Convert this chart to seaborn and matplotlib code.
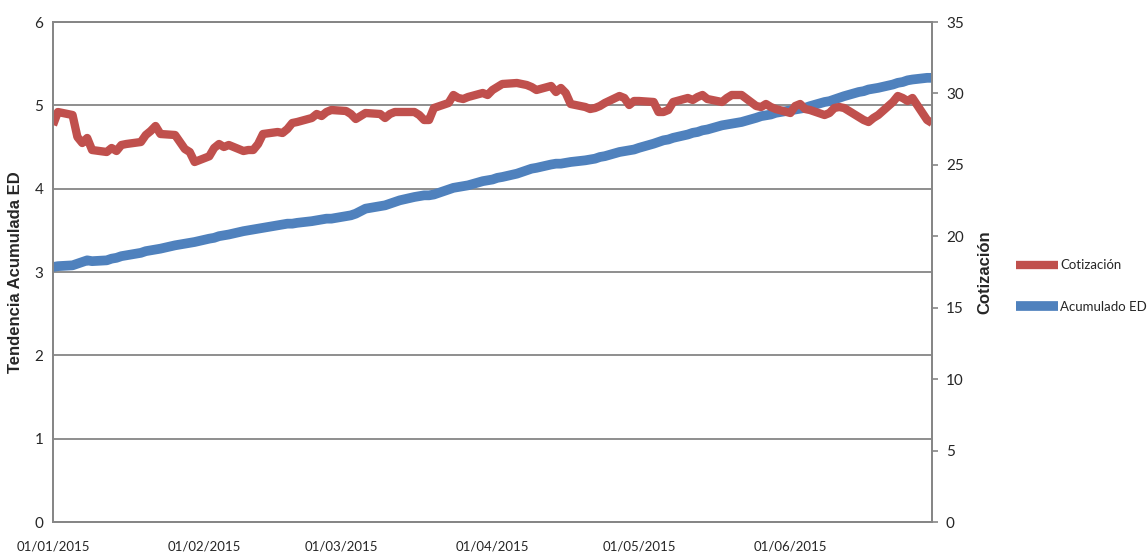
import pandas as pd
import matplotlib
matplotlib.use("Agg")
import matplotlib.pyplot as plt
import matplotlib.dates as mdates
import seaborn as sns

# Trading days, first half of 2015
fechas = pd.bdate_range("2015-01-01", "2015-06-30")

# Share price (right axis), one value per trading day, grouped by week
cotizacion = [
    27.79, 28.70,
    28.49, 26.95, 26.53, 26.88, 26.04,
    25.90, 26.18, 25.97, 26.39, 26.46,
    26.60, 27.09, 27.37, 27.72, 27.16,
    27.09, 26.60, 26.11, 25.90, 25.20,
    25.60, 26.18, 26.46, 26.25, 26.39,
    25.97, 26.04, 26.04, 26.46, 27.16,
    27.30, 27.23, 27.51, 27.93, 28.00,
    28.28, 28.56, 28.42, 28.70, 28.84,
    28.77, 28.56, 28.21, 28.42, 28.63,
    28.56, 28.28, 28.56, 28.70, 28.70,
    28.70, 28.49, 28.14, 28.14, 28.98,
    29.33, 29.89, 29.68, 29.61, 29.75,
    30.03, 29.89, 30.24, 30.45, 30.66,
    30.73, 30.66, 30.59, 30.45, 30.24,
    30.52, 30.10, 30.38, 30.03, 29.26,
    29.05, 28.91, 28.98, 29.12, 29.33,
    29.82, 29.68, 29.19, 29.47, 29.47,
    29.40, 28.70, 28.70, 28.84, 29.40,
    29.68, 29.54, 29.75, 29.89, 29.61,
    29.40, 29.68, 29.89, 29.89, 29.89,
    29.12, 29.05, 29.26, 29.05, 28.91,
    28.63, 29.12, 29.26, 28.91, 28.84,
    28.49, 28.63, 28.98, 29.05, 28.98,
    28.35, 28.14, 28.00, 28.28, 28.49,
    29.40, 29.82, 29.68, 29.47, 29.68,
    28.14, 27.93,
]

# Accumulated ED trend (left axis)
acumulado_ed = [
    3.06, 3.07,
    3.08, 3.10, 3.12, 3.14, 3.13,
    3.14, 3.16, 3.17, 3.19, 3.20,
    3.23, 3.25, 3.26, 3.27, 3.28,
    3.32, 3.33, 3.34, 3.35, 3.36,
    3.40, 3.41, 3.43, 3.44, 3.45,
    3.49, 3.50, 3.51, 3.52, 3.53,
    3.56, 3.57, 3.58, 3.58, 3.59,
    3.61, 3.62, 3.63, 3.64, 3.64,
    3.67, 3.68, 3.70, 3.73, 3.76,
    3.79, 3.80, 3.82, 3.84, 3.86,
    3.90, 3.91, 3.92, 3.92, 3.93,
    3.99, 4.01, 4.02, 4.03, 4.04,
    4.09, 4.10, 4.11, 4.13, 4.14,
    4.18, 4.20, 4.22, 4.24, 4.25,
    4.29, 4.30, 4.30, 4.31, 4.32,
    4.34, 4.35, 4.36, 4.38, 4.39,
    4.44, 4.45, 4.46, 4.47, 4.49,
    4.54, 4.56, 4.58, 4.59, 4.61,
    4.65, 4.67, 4.68, 4.70, 4.71,
    4.76, 4.77, 4.78, 4.79, 4.80,
    4.85, 4.87, 4.88, 4.89, 4.91,
    4.94, 4.95, 4.96, 4.97, 4.99,
    5.04, 5.05, 5.07, 5.09, 5.11,
    5.16, 5.17, 5.19, 5.20, 5.21,
    5.25, 5.27, 5.28, 5.30, 5.31,
    5.33, 5.33,
]

nombres = ["Cotización", "Acumulado ED"]
ticks_izq = [0, 1, 2, 3, 4, 5, 6]
ticks_der = [0, 5, 10, 15, 20, 25, 30, 35]
titulo_izq = "Tendencia Acumulada ED"
titulo_der = "Cotización"

ROJO = "#C0504D"
AZUL = "#4F81BD"
GRIS = "#868686"
TEXTO = ["Lato", "DejaVu Sans"]
BOLD = ["Liberation Sans", "DejaVu Sans"]

sns.set_style("white")
plt.rcParams["font.family"] = TEXTO

df = pd.DataFrame({"fecha": fechas, "cot": cotizacion, "acu": acumulado_ed})

W, H = 1147, 559
fig = plt.figure(figsize=(W / 100, H / 100), dpi=100)
ax = fig.add_axes([53 / W, 37 / H, 879 / W, 500 / H])

sns.lineplot(data=df, x="fecha", y="acu", ax=ax, color=AZUL, linewidth=7,
             legend=False, solid_joinstyle="round", solid_capstyle="butt")
ax2 = ax.twinx()
sns.lineplot(data=df, x="fecha", y="cot", ax=ax2, color=ROJO, linewidth=6,
             legend=False, solid_joinstyle="round", solid_capstyle="butt")

# Left axis with horizontal gridlines
ax.set_xlim(pd.Timestamp("2015-01-01"), pd.Timestamp("2015-06-30"))
ax.set_ylim(0, 6)
ax.set_yticks(ticks_izq)
ax.grid(axis="y", color=GRIS, linewidth=1.3)
ax.grid(axis="x", visible=False)
ax.set_axisbelow(True)
ax.tick_params(axis="y", length=0, pad=7, labelsize=11)
ax.tick_params(axis="x", length=0, pad=13, labelsize=9.5)
ax.xaxis.set_major_locator(mdates.MonthLocator(bymonthday=1))
ax.xaxis.set_major_formatter(mdates.DateFormatter("%d/%m/%Y"))
ax.set_xlabel("")
ax.set_ylabel(titulo_izq, fontsize=12, fontweight="bold", family=BOLD, labelpad=8)

# Right axis for the share price
ax2.set_ylim(0, 35)
ax2.set_yticks(ticks_der)
ax2.grid(False)
ax2.tick_params(axis="y", length=4, width=1.2, color=GRIS, pad=6, labelsize=11)
ax2.set_ylabel(titulo_der, fontsize=12, fontweight="bold", family=BOLD, labelpad=10)

for a in (ax, ax2):
    for side, sp in a.spines.items():
        sp.set_color(GRIS)
        sp.set_linewidth(1.3)
    a.spines["top"].set_visible(True)

leg = fig.legend([ax2.lines[0], ax.lines[0]], nombres,
                 loc="center left", bbox_to_anchor=(1016 / W, 1 - 286 / H),
                 frameon=False, fontsize=9.5, handlelength=3.2, handletextpad=0.15,
                 labelspacing=2.2, borderpad=0, borderaxespad=0)

fig.savefig("out.png", dpi=100)
